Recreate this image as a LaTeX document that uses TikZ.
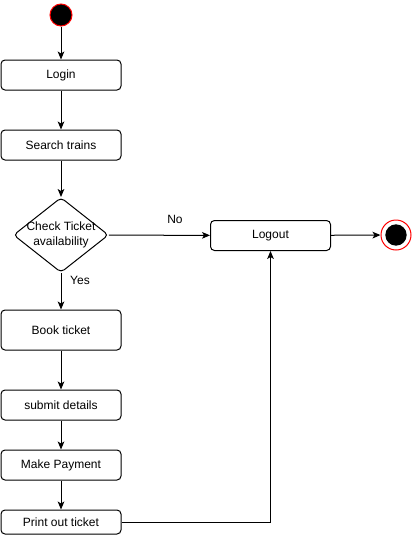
\documentclass[tikz,border=0pt]{standalone}
\usepackage{fontspec}
\setmainfont{Liberation Sans}
\usetikzlibrary{shapes.geometric,arrows.meta}
\begin{document}
\begin{tikzpicture}[x=0.75pt,y=-0.75pt,
  font=\fontsize{9pt}{11pt}\selectfont,
  box/.style={draw,rounded corners=3pt,minimum width=90pt,inner sep=0pt,line width=0.75pt,fill=white},
  arr/.style={-{Stealth[length=6pt,width=5pt,inset=1.5pt]},line width=0.75pt},
  lbl/.style={inner sep=0pt}]
\useasboundingbox (0,0) rectangle (411,536);
\node[circle,draw=red,fill=black,minimum size=16.5pt,inner sep=0pt,line width=0.75pt] (start) at (61,15) {};
\node[box,minimum height=22.5pt] (login) at (61,75) {Login};
\node[box,minimum height=22.5pt] (search) at (61,145) {Search trains};
\node[diamond,draw,rounded corners=3pt,minimum width=71.25pt,minimum height=56.25pt,inner sep=0pt,line width=0.75pt] (chk) at (61,235) {};
\node[align=center,inner sep=0pt] (chktxt) at (chk) {Check Ticket\\availability};
\node[box,minimum height=30pt] (book) at (61,330) {Book ticket};
\node[box,minimum height=22.5pt] (submit) at (61,405) {submit details};
\node[box,minimum height=22.5pt] (pay) at (61,465) {Make Payment};
\node[box,minimum height=18pt] (print) at (61,522) {Print out ticket};
\node[box,minimum height=22.5pt] (logout) at (270.5,235.5) {Logout};
\node[circle,draw=red,minimum size=22.5pt,inner sep=0pt,line width=0.75pt] (end) at (396,235) {};
\node[circle,fill=black,minimum size=16pt,inner sep=0pt] (endin) at (end) {};
\draw[arr] (start) -- (login);
\draw[arr] (login) -- (search);
\draw[arr] (search) -- (chk);
\draw[arr] (chk) -- (book);
\draw[arr] (book) -- (submit);
\draw[arr] (submit) -- (pay);
\draw[arr] (pay) -- (print);
\draw[arr] (chk) -- (logout);
\draw[arr] (logout) -- (end);
\draw[arr] (print) -| (logout);
\node[lbl] (yes) at (80,280) {Yes};
\node[lbl] (no) at (175,219) {No};
\end{tikzpicture}
\end{document}
